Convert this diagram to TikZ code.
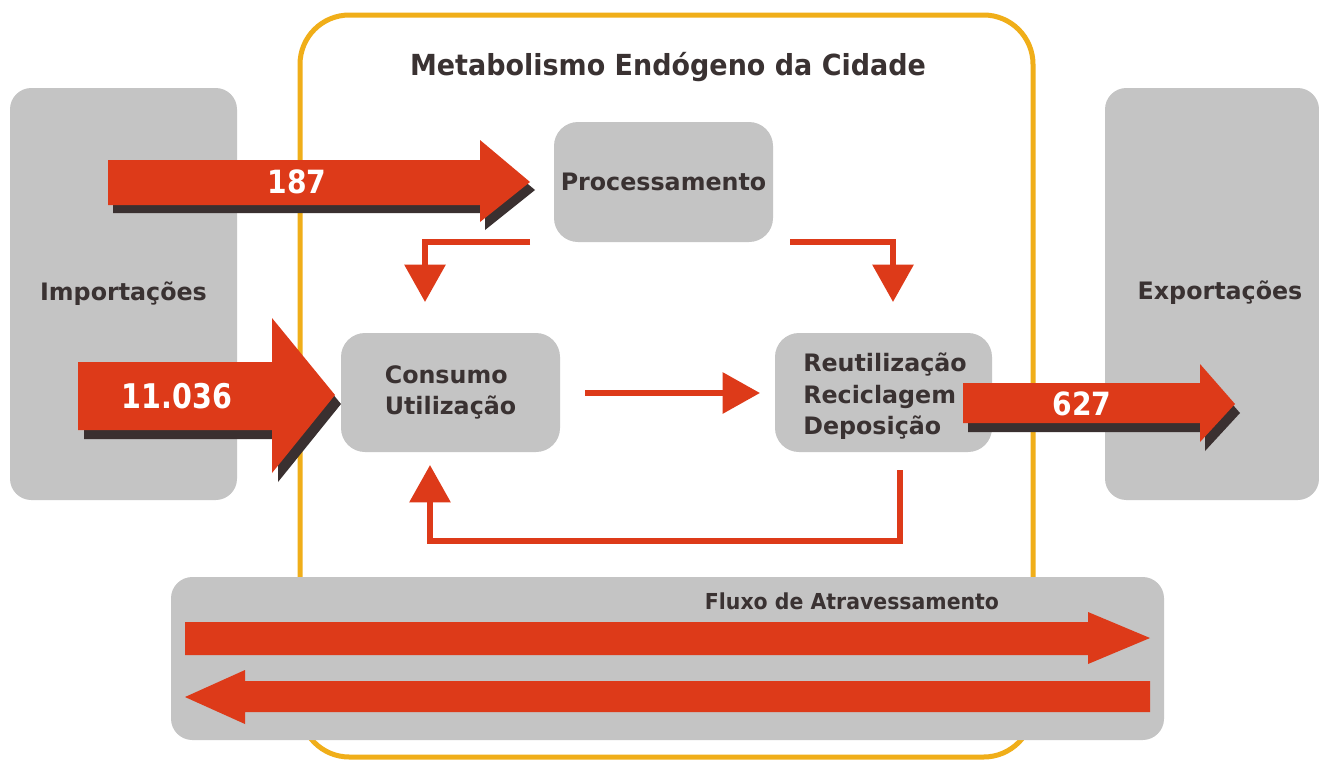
\documentclass[tikz,border=0pt]{standalone}
\usepackage{fontspec}
\setmainfont{DejaVu Sans}
\usetikzlibrary{arrows.meta}
\definecolor{redc}{HTML}{DD3A19}
\definecolor{grayc}{HTML}{C4C4C4}
\definecolor{framec}{HTML}{F0AE19}
\definecolor{shadowc}{HTML}{3A3030}
\definecolor{textc}{HTML}{3A3232}
\newcommand{\labfont}{\bfseries\fontsize{18pt}{23.5pt}\selectfont}
\newcommand{\numfont}{\bfseries\fontsize{24pt}{28pt}\selectfont}
\newcommand{\sxl}[1]{\scalebox{0.99}[1]{#1}}
\tikzset{
  gbox/.style={fill=grayc, draw=none, inner sep=0pt, text=textc, font=\labfont},
  txt/.style={inner sep=0pt, text=textc, font=\labfont},
  numtxt/.style={inner sep=0pt, text=white, font=\numfont},
  fatbody/.style={fill=redc},
  fatshadow/.style={fill=shadowc},
  tarrow/.style={draw=redc, line width=4.5pt, -{Triangle[length=28pt,width=30pt]}},
  framestyle/.style={draw=framec, line width=3.75pt, rounded corners=37pt}
}
\begin{document}
\begin{tikzpicture}[x=0.75pt, y=-0.75pt]
\useasboundingbox[fill=white] (0,0) rectangle (1319,761);

% side boxes
\node[gbox, rounded corners=16pt, minimum width=170.25pt, minimum height=309pt] (imp) at (123.5,294) {\sxl{Importações}};
\node[gbox, rounded corners=16pt, minimum width=160.5pt, minimum height=309pt] (exp) at (1212,294) {};
\node[txt] (exptxt) at (1220,293) {\sxl{Exportações}};

% frame
\draw[framestyle] (300,15) rectangle (1033,757);
\node[txt, font=\bfseries\fontsize{21.75pt}{26pt}\selectfont] (title) at (668,67) {\scalebox{0.93}[1]{Metabolismo Endógeno da Cidade}};

% inner boxes
\node[gbox, rounded corners=18pt, minimum width=164.25pt, minimum height=90pt] (proc) at (663.5,182) {\sxl{Processamento}};
\node[gbox, rounded corners=18pt, minimum width=164.25pt, minimum height=89.25pt] (cons) at (450.5,392.5)
  {\sxl{\begin{tabular}{@{}l@{}}Consumo\\Utilização\end{tabular}}};
\node[gbox, rounded corners=18pt, minimum width=162.75pt, minimum height=89.25pt] (reut) at (883.5,392.5) {};
\node[txt] (reuttxt) at (885,397)
  {\sxl{\begin{tabular}{@{}l@{}}Reutilização\\Reciclagem\\Deposição\end{tabular}}};

% fluxo box
\node[gbox, rounded corners=16pt, minimum width=744.75pt, minimum height=122.25pt] (flux) at (667.5,658.5) {};
\node[txt, font=\bfseries\fontsize{16.5pt}{20pt}\selectfont] (fluxtxt) at (852,601) {\scalebox{0.93}[1]{Fluxo de Atravessamento}};
\fill[fatbody] (185,622) -- (1088,622) -- (1088,612) -- (1150,638) -- (1088,664) -- (1088,655) -- (185,655) -- cycle;
\fill[fatbody] (1150,681) -- (245,681) -- (245,670) -- (185,697) -- (245,724) -- (245,712) -- (1150,712) -- cycle;

% thin connectors
\coordinate (pl) at (530,242);
\coordinate (cl) at (425,302);
\coordinate (pr) at (790,242);
\coordinate (rr) at (893,302);
\coordinate (cm) at (585,393);
\coordinate (rm) at (760,393);
\coordinate (rb) at (900,470);
\coordinate (cb) at (430,541);
\coordinate (ct) at (430,465);
\draw[tarrow] (pl) -| (cl);
\draw[tarrow] (pr) -| (rr);
\draw[tarrow] (cm) -- (rm);
\draw[tarrow] (rb) |- (cb) -- (ct);

% fat arrows with shadows
\begin{scope}[shift={(5,8)}]
\fill[fatshadow] (108,160) -- (480,160) -- (480,140) -- (530,182) -- (480,222) -- (480,205) -- (108,205) -- cycle;
\end{scope}
\fill[fatbody] (108,160) -- (480,160) -- (480,140) -- (530,182) -- (480,222) -- (480,205) -- (108,205) -- cycle;
\node[numtxt] (n187) at (297,182) {\scalebox{0.88}[1]{187}};

\begin{scope}[shift={(6,9)}]
\fill[fatshadow] (78,362) -- (272,362) -- (272,318) -- (335,395) -- (272,473) -- (272,430) -- (78,430) -- cycle;
\end{scope}
\fill[fatbody] (78,362) -- (272,362) -- (272,318) -- (335,395) -- (272,473) -- (272,430) -- (78,430) -- cycle;
\node[numtxt, font=\bfseries\fontsize{25.5pt}{30pt}\selectfont] (n11036) at (177,396) {\scalebox{0.84}[1]{11.036}};

\begin{scope}[shift={(5,9)}]
\fill[fatshadow] (963,383) -- (1200,383) -- (1200,364) -- (1235,404) -- (1200,442) -- (1200,423) -- (963,423) -- cycle;
\end{scope}
\fill[fatbody] (963,383) -- (1200,383) -- (1200,364) -- (1235,404) -- (1200,442) -- (1200,423) -- (963,423) -- cycle;
\node[numtxt] (n627) at (1082,404) {\scalebox{0.88}[1]{627}};
\end{tikzpicture}
\end{document}
